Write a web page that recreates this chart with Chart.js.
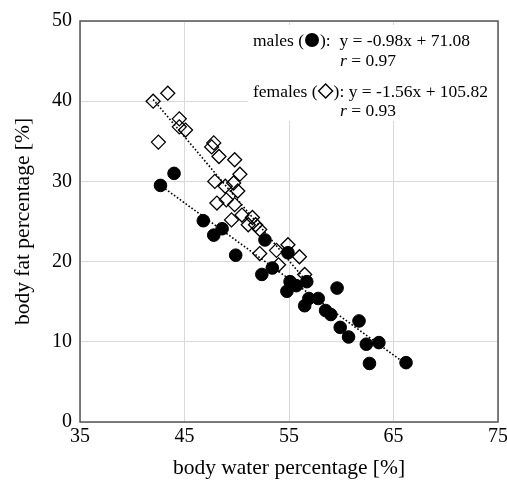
<!DOCTYPE html>
<html>
<head>
<meta charset="utf-8">
<script src="https://cdn.jsdelivr.net/npm/chart.js@4.4.1/dist/chart.umd.min.js"></script>
<style>
html, body { margin: 0; padding: 0; background: #fff; }
</style>
</head>
<body>
<canvas id="myChart" width="507" height="483"></canvas>
<script>
// values
const maleWater = [42.7, 44.0, 46.8, 47.8, 48.6, 49.9, 52.4, 52.7, 53.4, 54.9, 54.8, 55.1, 55.7, 56.7, 56.5, 56.9, 57.8, 58.5, 59.0, 59.6, 59.9, 60.7, 61.7, 62.4, 62.7, 63.6, 66.2]
const maleFat = [29.5, 31.0, 25.1, 23.3, 24.1, 20.8, 18.4, 22.7, 19.2, 21.1, 16.3, 17.5, 17.0, 17.5, 14.5, 15.4, 15.4, 13.9, 13.4, 16.7, 11.8, 10.6, 12.6, 9.7, 7.3, 9.9, 7.4]

const femaleWater = [42.0, 43.4, 42.5, 44.5, 44.5, 45.1, 47.6, 47.8, 48.3, 49.8, 50.3, 47.9, 48.9, 49.7, 50.1, 48.1, 49.0, 49.8, 49.5, 50.5, 51.5, 51.1, 51.8, 52.2, 52.2, 53.8, 54.9, 54.0, 56.0, 56.5]
const femaleFat = [40.0, 41.0, 34.9, 37.8, 36.8, 36.4, 34.3, 34.8, 33.1, 32.7, 30.9, 30.0, 29.4, 29.8, 28.8, 27.3, 27.7, 27.1, 25.2, 25.8, 25.5, 24.6, 24.6, 24.0, 21.0, 21.4, 22.1, 19.6, 20.6, 18.4]

const maleTrendWater = [42.6, 65.9]
const maleTrendFat = [29.6, 7.5]
const femaleTrendWater = [42.0, 56.5]
const femaleTrendFat = [40.2, 17.8]

const xTicks = [35, 45, 55, 65, 75]
const yTicks = [0, 10, 20, 30, 40, 50]

const maleNote = ['males (', '):  y = -0.98x + 71.08', '0.97']
const femaleNote = ['females (', '): y = -1.56x + 105.82', '0.93']

const serif = '"Liberation Serif", "Times New Roman", serif'

const toPoints = function (xs, ys) {
    return xs.map((x, i) => ({ x: x, y: ys[i] }))
}

const drawRLine = function (ctx, cx, y, value) {
    const italic = 'italic 17.5px ' + serif
    const plain = '17.5px ' + serif
    ctx.font = italic
    const w1 = ctx.measureText('r').width
    ctx.font = plain
    const rest = ' = ' + value
    const w2 = ctx.measureText(rest).width
    let x = cx - (w1 + w2) / 2
    ctx.font = italic
    ctx.fillText('r', x, y)
    ctx.font = plain
    ctx.fillText(rest, x + w1, y)
}

const drawNoteLine = function (ctx, x, y, parts, style) {
    ctx.font = '17.5px ' + serif
    ctx.fillText(parts[0], x, y)
    x += ctx.measureText(parts[0]).width + 1
    const px = x + 7
    if (style === 'circle') {
        ctx.beginPath()
        ctx.arc(px, y - 1, 7, 0, Math.PI * 2)
        ctx.fill()
    } else {
        ctx.lineWidth = 1.4
        ctx.beginPath()
        ctx.moveTo(px, y - 8)
        ctx.lineTo(px + 7, y - 1)
        ctx.lineTo(px, y + 6)
        ctx.lineTo(px - 7, y - 1)
        ctx.closePath()
        ctx.stroke()
    }
    ctx.fillText(parts[1], x + 15, y)
}

// white box with the regression notes, plus the plot frame
const notes = {
    id: 'notes',
    beforeDatasetsDraw(chart) {
        const ctx = chart.ctx
        const a = chart.chartArea
        ctx.save()
        ctx.fillStyle = '#fff'
        ctx.fillRect(a.right - 250, a.top + 4, 249, 96)

        ctx.strokeStyle = '#555'
        ctx.lineWidth = 1.5
        ctx.strokeRect(a.left, a.top, a.right - a.left, a.bottom - a.top)

        ctx.fillStyle = '#000'
        ctx.strokeStyle = '#000'
        ctx.textBaseline = 'middle'
        ctx.textAlign = 'left'
        const left = a.right - 245
        const mid = a.right - 130
        drawNoteLine(ctx, left, a.top + 20, maleNote, 'circle')
        drawRLine(ctx, mid, a.top + 40, maleNote[2])
        drawNoteLine(ctx, left, a.top + 71, femaleNote, 'diamond')
        drawRLine(ctx, mid, a.top + 90, femaleNote[2])
        ctx.restore()
    }
}

const chart = new Chart(document.getElementById('myChart').getContext('2d'), {
    type: 'scatter',
    data: {
        datasets: [
            {
                label: 'males',
                data: toPoints(maleWater, maleFat),
                pointStyle: 'circle',
                pointRadius: 6.3,
                pointBackgroundColor: '#000',
                pointBorderColor: '#000',
                pointBorderWidth: 1,
                order: 0
            },
            {
                label: 'females',
                data: toPoints(femaleWater, femaleFat),
                pointStyle: 'rectRot',
                pointRadius: 7,
                pointBackgroundColor: 'rgba(255,255,255,0)',
                pointBorderColor: '#000',
                pointBorderWidth: 1.3,
                order: 1
            },
            {
                type: 'line',
                label: 'males fit',
                data: toPoints(maleTrendWater, maleTrendFat),
                borderColor: '#000',
                borderWidth: 1.6,
                borderDash: [1.6, 2],
                pointRadius: 0,
                fill: false,
                order: 2
            },
            {
                type: 'line',
                label: 'females fit',
                data: toPoints(femaleTrendWater, femaleTrendFat),
                borderColor: '#000',
                borderWidth: 1.6,
                borderDash: [1.6, 2],
                pointRadius: 0,
                fill: false,
                order: 2
            }
        ]
    },
    options: {
        responsive: false,
        animation: false,
        layout: { padding: { top: 21, right: 9, left: 0, bottom: 0 } },
        plugins: {
            legend: { display: false },
            tooltip: { enabled: false }
        },
        scales: {
            x: {
                type: 'linear',
                min: xTicks[0],
                max: xTicks[xTicks.length - 1],
                afterBuildTicks: function (scale) {
                    scale.ticks = xTicks.map(v => ({ value: v }))
                },
                afterFit: function (scale) {
                    scale.height = 61
                    scale.paddingLeft = 0
                    scale.paddingRight = 0
                },
                grid: { color: '#d9d9d9', lineWidth: 1, drawTicks: false },
                border: { display: false },
                ticks: {
                    color: '#000',
                    padding: 3,
                    font: { family: serif, size: 20 }
                },
                title: {
                    display: true,
                    text: 'body water percentage [%]',
                    color: '#000',
                    font: { family: serif, size: 21.5, lineHeight: 1.2 },
                    padding: { top: 0, bottom: 2 }
                }
            },
            y: {
                type: 'linear',
                min: yTicks[0],
                max: yTicks[yTicks.length - 1],
                afterBuildTicks: function (scale) {
                    scale.ticks = yTicks.map(v => ({ value: v }))
                },
                afterFit: function (scale) {
                    scale.width = 80
                    scale.paddingTop = 0
                    scale.paddingBottom = 0
                },
                grid: { color: '#d9d9d9', lineWidth: 1, drawTicks: false },
                border: { display: false },
                ticks: {
                    color: '#000',
                    padding: 8,
                    font: { family: serif, size: 20 }
                },
                title: {
                    display: true,
                    text: 'body fat percentage [%]',
                    color: '#000',
                    font: { family: serif, size: 21.5, lineHeight: 1.2 },
                    padding: { top: 10, bottom: 0 }
                }
            }
        }
    },
    plugins: [notes]
});
</script>
</body>
</html>
